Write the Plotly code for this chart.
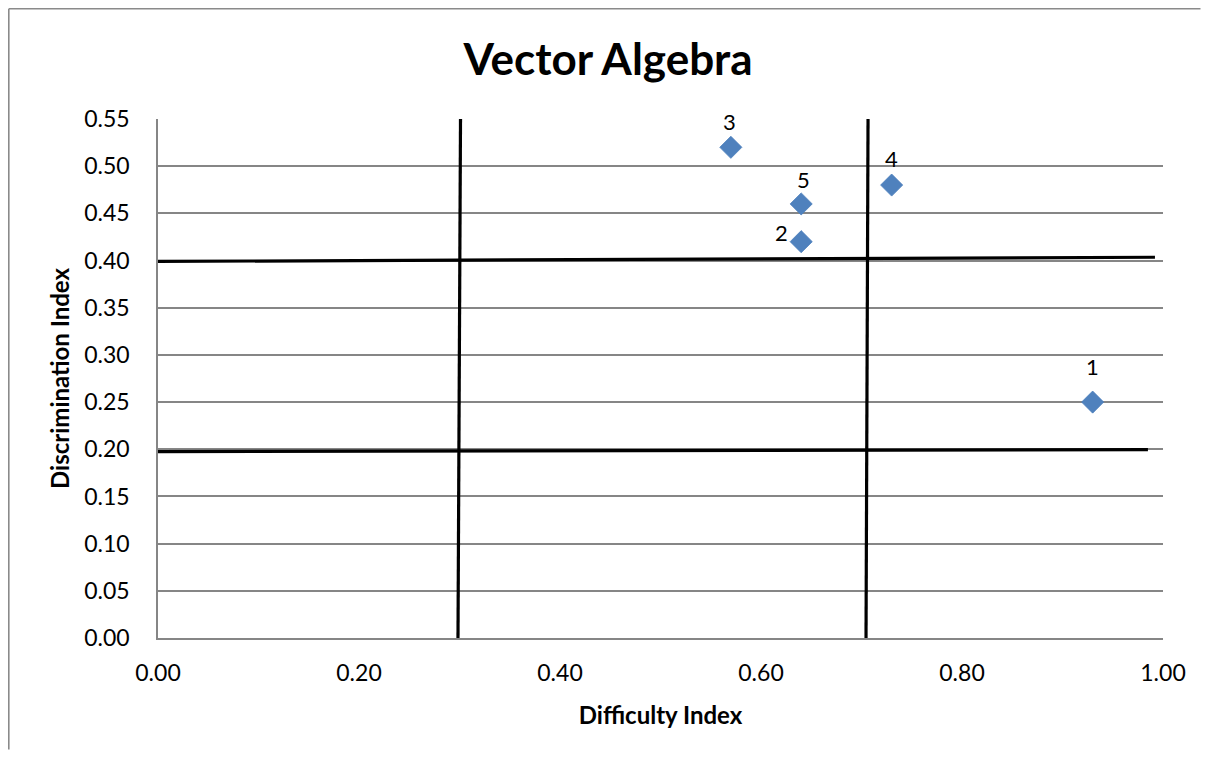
import plotly.graph_objects as go

# Data
items = ["1", "2", "3", "4", "5"]
difficulty = [0.93, 0.64, 0.57, 0.73, 0.64]
discrimination = [0.25, 0.42, 0.52, 0.48, 0.46]

# Reference lines drawn on the chart (x0, y0, x1, y1) in data units
ref_lines = [
    (0.301, 0.55, 0.2985, 0.00),
    (0.7065, 0.55, 0.7045, 0.00),
    (-0.013, 0.399, 0.992, 0.4035),
    (-0.010, 0.1975, 0.985, 0.1996),
]

x_ticks = [0.0, 0.2, 0.4, 0.6, 0.8, 1.0]
y_ticks = [round(i * 0.05, 2) for i in range(12)]

# label offsets (pixels) per item
label_shift = {"1": (0, 36), "2": (-20, 9), "3": (-1, 26), "4": (0, 27), "5": (2, 24)}

FONT = "Lato, 'Open Sans', sans-serif"

fig = go.Figure()
fig.add_trace(go.Scatter(
    x=difficulty, y=discrimination, mode="markers",
    marker=dict(symbol="diamond", size=17, color="#4F81BD",
                line=dict(width=0.8, color="#4A7EBB")),
    showlegend=False, hoverinfo="x+y",
))

for it, xv, yv in zip(items, difficulty, discrimination):
    dx, dy = label_shift[it]
    fig.add_annotation(x=xv, y=yv, text=it, showarrow=False,
                       xshift=dx, yshift=dy,
                       font=dict(family=FONT, size=22, color="black"))

for x0, y0, x1, y1 in ref_lines:
    fig.add_shape(type="line", x0=x0, y0=y0, x1=x1, y1=y1,
                  xref="x", yref="y", line=dict(color="black", width=3.2))

# page body adds an 8px margin on every side; keep the figure inside the window
OFF = 8
W, H = 1209 - 2 * OFF, 758 - 2 * OFF
ml, mt = 158 - OFF, 119 - OFF
mr = 1209 - 1163 - OFF
mb = 758 - 638 - OFF
pw, ph = W - ml - mr, H - mt - mb
# outer chart border (left and top visible), placed at the svg edge
bx = (0.8 - ml) / pw
by = 1 + (mt - 0.8) / ph
bx_end = (W - 0.5 - ml) / pw
by_end = -(mb - 0.5) / ph
fig.add_shape(type="line", xref="paper", yref="paper", x0=bx, y0=by, x1=bx, y1=by_end,
              line=dict(color="#8a8a8a", width=1.6))
fig.add_shape(type="line", xref="paper", yref="paper", x0=bx, y0=by, x1=bx_end, y1=by,
              line=dict(color="#8a8a8a", width=1.6))

fig.update_layout(
    width=W, height=H,
    margin=dict(l=ml, r=mr, t=mt, b=mb),
    paper_bgcolor="white", plot_bgcolor="white",
    title=dict(text="<b>Vector Algebra</b>", x=(608 - OFF) / W, xanchor="center",
               y=1 - (60 - OFF) / H, yanchor="middle",
               font=dict(family=FONT, size=44, color="black")),
    font=dict(family=FONT, color="black"),
    xaxis=dict(range=[0, 1], tickvals=x_ticks, tickformat=".2f",
               showgrid=False, zeroline=False, showline=True,
               linecolor="#868686", linewidth=1.5, ticks="",
               tickfont=dict(size=23), ticklabelstandoff=14,
               title=dict(text="<b>Difficulty Index</b>", font=dict(size=24), standoff=22)),
    yaxis=dict(range=[0, 0.55], tickvals=y_ticks, tickformat=".2f",
               showgrid=True, gridcolor="#868686", gridwidth=1.5,
               zeroline=False, showline=True, linecolor="#868686", linewidth=1.5,
               ticks="", tickfont=dict(size=23), ticklabelstandoff=22,
               title=dict(text="<b>Discrimination Index</b>", font=dict(size=24), standoff=8)),
)

fig.write_html("out.html", config={"displayModeBar": False})
